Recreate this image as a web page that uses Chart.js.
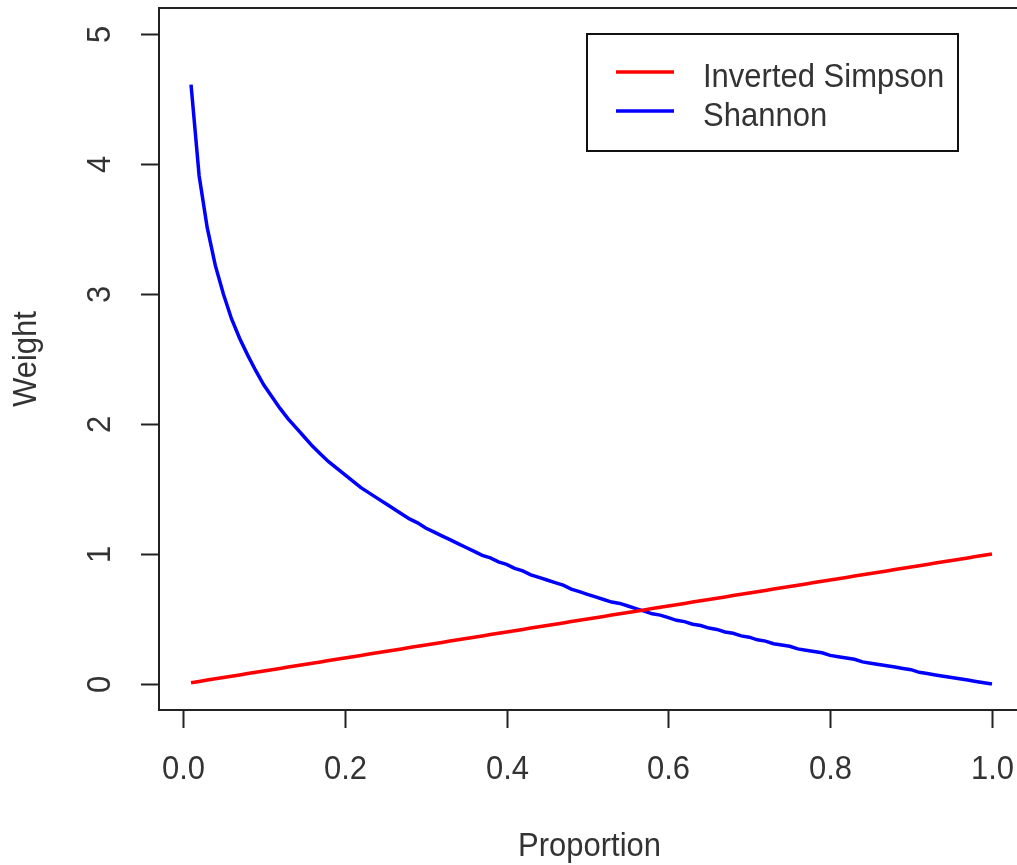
<!DOCTYPE html>
<html lang="en">
<head>
  <meta charset="UTF-8">
  <title>Weight by Proportion</title>
  <script src="https://cdn.jsdelivr.net/npm/chart.js"></script>
  <style>
    body {
      margin: 0;
      background: #ffffff;
      overflow: hidden;
    }
    #wrap {
      width: 1030px;
      height: 865px;
    }
  </style>
</head>
<body>
  <div id="wrap">
    <canvas id="mainChart" width="1030" height="865"></canvas>
  </div>

  <script>
    // proportions along the x axis (0.01 .. 1.00)
    const proportion = [
      0.01, 0.02, 0.03, 0.04, 0.05, 0.06, 0.07, 0.08, 0.09, 0.10,
      0.11, 0.12, 0.13, 0.14, 0.15, 0.16, 0.17, 0.18, 0.19, 0.20,
      0.21, 0.22, 0.23, 0.24, 0.25, 0.26, 0.27, 0.28, 0.29, 0.30,
      0.31, 0.32, 0.33, 0.34, 0.35, 0.36, 0.37, 0.38, 0.39, 0.40,
      0.41, 0.42, 0.43, 0.44, 0.45, 0.46, 0.47, 0.48, 0.49, 0.50,
      0.51, 0.52, 0.53, 0.54, 0.55, 0.56, 0.57, 0.58, 0.59, 0.60,
      0.61, 0.62, 0.63, 0.64, 0.65, 0.66, 0.67, 0.68, 0.69, 0.70,
      0.71, 0.72, 0.73, 0.74, 0.75, 0.76, 0.77, 0.78, 0.79, 0.80,
      0.81, 0.82, 0.83, 0.84, 0.85, 0.86, 0.87, 0.88, 0.89, 0.90,
      0.91, 0.92, 0.93, 0.94, 0.95, 0.96, 0.97, 0.98, 0.99, 1.00
    ];

    // red line
    const invertedSimpson = [
      0.01, 0.02, 0.03, 0.04, 0.05, 0.06, 0.07, 0.08, 0.09, 0.10,
      0.11, 0.12, 0.13, 0.14, 0.15, 0.16, 0.17, 0.18, 0.19, 0.20,
      0.21, 0.22, 0.23, 0.24, 0.25, 0.26, 0.27, 0.28, 0.29, 0.30,
      0.31, 0.32, 0.33, 0.34, 0.35, 0.36, 0.37, 0.38, 0.39, 0.40,
      0.41, 0.42, 0.43, 0.44, 0.45, 0.46, 0.47, 0.48, 0.49, 0.50,
      0.51, 0.52, 0.53, 0.54, 0.55, 0.56, 0.57, 0.58, 0.59, 0.60,
      0.61, 0.62, 0.63, 0.64, 0.65, 0.66, 0.67, 0.68, 0.69, 0.70,
      0.71, 0.72, 0.73, 0.74, 0.75, 0.76, 0.77, 0.78, 0.79, 0.80,
      0.81, 0.82, 0.83, 0.84, 0.85, 0.86, 0.87, 0.88, 0.89, 0.90,
      0.91, 0.92, 0.93, 0.94, 0.95, 0.96, 0.97, 0.98, 0.99, 1.00
    ];

    // blue line
    const shannon = [
      4.61, 3.91, 3.51, 3.22, 3.00, 2.81, 2.66, 2.53, 2.41, 2.30,
      2.21, 2.12, 2.04, 1.97, 1.90, 1.83, 1.77, 1.71, 1.66, 1.61,
      1.56, 1.51, 1.47, 1.43, 1.39, 1.35, 1.31, 1.27, 1.24, 1.20,
      1.17, 1.14, 1.11, 1.08, 1.05, 1.02, 0.99, 0.97, 0.94, 0.92,
      0.89, 0.87, 0.84, 0.82, 0.80, 0.78, 0.76, 0.73, 0.71, 0.69,
      0.67, 0.65, 0.63, 0.62, 0.60, 0.58, 0.56, 0.54, 0.53, 0.51,
      0.49, 0.48, 0.46, 0.45, 0.43, 0.42, 0.40, 0.39, 0.37, 0.36,
      0.34, 0.33, 0.31, 0.30, 0.29, 0.27, 0.26, 0.25, 0.24, 0.22,
      0.21, 0.20, 0.19, 0.17, 0.16, 0.15, 0.14, 0.13, 0.12, 0.11,
      0.09, 0.08, 0.07, 0.06, 0.05, 0.04, 0.03, 0.02, 0.01, 0.00
    ];

    const xTicks = [0.0, 0.2, 0.4, 0.6, 0.8, 1.0];
    const yTicks = [0, 1, 2, 3, 4, 5];
    const seriesNames = ['Inverted Simpson', 'Shannon'];
    const seriesColors = ['#ff0000', '#0000ff'];

    const FONT = '31px "Liberation Sans", Arial, sans-serif';
    const TEXT = '#333';

    function toPoints(xs, ys) {
      return xs.map((x, i) => ({ x: x, y: ys[i] }));
    }

    // slightly taller glyphs, like the original device font
    function tallText(ctx, str, x, y) {
      ctx.save();
      ctx.translate(x, y);
      ctx.scale(1, 1.08);
      ctx.fillText(str, 0, 0);
      ctx.restore();
    }

    // R-style box, axes, titles and legend drawn onto the canvas
    const baseGraphics = {
      id: 'baseGraphics',
      afterDraw(chart) {
        const ctx = chart.ctx;
        const area = chart.chartArea;
        const xs = chart.scales.x;
        const ys = chart.scales.y;
        ctx.save();
        ctx.strokeStyle = '#222';
        ctx.fillStyle = TEXT;
        ctx.lineWidth = 2;

        // plot box
        ctx.strokeRect(area.left, area.top, area.right - area.left, area.bottom - area.top);

        ctx.font = FONT;

        // x ticks
        ctx.textAlign = 'center';
        ctx.textBaseline = 'alphabetic';
        xTicks.forEach(v => {
          const px = Math.round(xs.getPixelForValue(v)) + 0.5;
          ctx.beginPath();
          ctx.moveTo(px, area.bottom);
          ctx.lineTo(px, area.bottom + 18);
          ctx.stroke();
          tallText(ctx, v.toFixed(1), px, 779);
        });

        // y ticks, labels rotated
        yTicks.forEach(v => {
          const py = Math.round(ys.getPixelForValue(v)) + 0.5;
          ctx.beginPath();
          ctx.moveTo(area.left, py);
          ctx.lineTo(area.left - 18, py);
          ctx.stroke();
          ctx.save();
          ctx.translate(101, py);
          ctx.rotate(-Math.PI / 2);
          ctx.scale(1, 1.08);
          ctx.textBaseline = 'middle';
          ctx.fillText(String(v), 0, 0);
          ctx.restore();
        });

        // axis titles
        tallText(ctx, 'Proportion', (area.left + area.right) / 2 - 2, 856);
        ctx.save();
        ctx.translate(27, (area.top + area.bottom) / 2);
        ctx.rotate(-Math.PI / 2);
        ctx.scale(1, 1.08);
        ctx.textBaseline = 'middle';
        ctx.fillText('Weight', 0, 0);
        ctx.restore();

        // legend
        ctx.strokeStyle = '#111';
        ctx.lineWidth = 2;
        ctx.fillStyle = '#ffffff';
        ctx.fillRect(587, 34, 371, 117);
        ctx.strokeRect(587, 34, 371, 117);
        const rows = [72, 111];
        ctx.textAlign = 'left';
        ctx.textBaseline = 'alphabetic';
        seriesNames.forEach((name, i) => {
          ctx.strokeStyle = seriesColors[i];
          ctx.lineWidth = 3.5;
          ctx.beginPath();
          ctx.moveTo(616, rows[i]);
          ctx.lineTo(674, rows[i]);
          ctx.stroke();
          ctx.fillStyle = TEXT;
          tallText(ctx, name, 703, rows[i] + 15);
        });
        ctx.restore();
      }
    };

    const ctx = document.getElementById('mainChart').getContext('2d');
    new Chart(ctx, {
      type: 'scatter',
      data: {
        datasets: [
          {
            label: seriesNames[0],
            data: toPoints(proportion, invertedSimpson),
            showLine: true,
            borderColor: seriesColors[0],
            borderWidth: 3.5,
            pointRadius: 0,
            tension: 0
          },
          {
            label: seriesNames[1],
            data: toPoints(proportion, shannon),
            showLine: true,
            borderColor: seriesColors[1],
            borderWidth: 3.5,
            pointRadius: 0,
            tension: 0
          }
        ]
      },
      options: {
        responsive: false,
        animation: false,
        layout: { padding: { left: 159, top: 8, right: 6, bottom: 155 } },
        plugins: {
          legend: { display: false },
          tooltip: { enabled: false }
        },
        scales: {
          x: { type: 'linear', display: false, min: -0.0296, max: 1.0396 },
          y: { type: 'linear', display: false, min: -0.2, max: 5.2 }
        }
      },
      plugins: [baseGraphics]
    });
  </script>
</body>
</html>
